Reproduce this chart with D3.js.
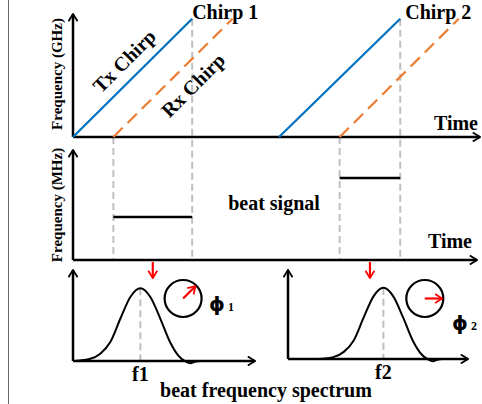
<!DOCTYPE html>
<html lang="en">
<head>
    <meta charset="UTF-8">
    <title>FMCW chirp and beat frequency spectrum</title>
    <script src="https://d3js.org/d3.v7.min.js"></script>
    <style>
        body { margin: 0; background: #fff; }
        text { font-family: "Liberation Serif", "Times New Roman", serif; font-weight: bold; fill: #000; }
        .axis { stroke: #000; stroke-width: 2.5; fill: none; }
        .guide { stroke: #bfbfbf; stroke-width: 2; stroke-dasharray: 7,4; fill: none; }
    </style>
</head>
<body>
    <svg width="482" height="404"></svg>

    <script>
        // time in µs, chirp frequency normalised (1 = top of sweep)
        const txChirps = [[0, 29.5], [51, 81]];
        const rxChirps = [[10, 39.5], [66, 95.5]];
        const chirpLabels = ["Chirp 1", "Chirp 2"];

        // beat frequency (normalised) per chirp
        const beatLevels = [0.39, 0.745];

        // spectrum shape: offset from peak (MHz) and amplitude
        const specOffsets = [-3.6, -2.75, -2.2, -1.65, -1.1, -0.55, 0, 0.55, 1.1, 1.65, 2.1, 2.5, 2.75, 3.0, 3.3];
        const specAmps = [0, 0.03, 0.1, 0.26, 0.58, 0.88, 1, 0.88, 0.58, 0.25, 0.07, -0.01, -0.03, -0.01, 0];
        const peakFreqs = [3.7, 5.3];
        const peakLabels = ["f1", "f2"];
        const phases = [45, 0];          // degrees
        const phaseLabels = ["1", "2"];

        const svg = d3.select("svg");

        const defs = svg.append("defs");
        function marker(id, color, size) {
            defs.append("marker")
                .attr("id", id)
                .attr("viewBox", "0 -6 10 12")
                .attr("refX", 9).attr("refY", 0)
                .attr("markerUnits", "userSpaceOnUse")
                .attr("markerWidth", size).attr("markerHeight", size * 1.2)
                .attr("orient", "auto")
                .append("path")
                .attr("d", "M1,-5L9,0L1,5")
                .attr("fill", "none")
                .attr("stroke", color)
                .attr("stroke-width", 2);
        }
        marker("arr", "#000", 9);
        marker("arrRed", "#ff0000", 9);

        // left page border
        svg.append("line")
            .attr("x1", 8.5).attr("x2", 8.5).attr("y1", 0).attr("y2", 404)
            .attr("stroke", "#666").attr("stroke-width", 1);

        const x = d3.scaleLinear().domain([0, 100]).range([73, 477]);
        const yTop = d3.scaleLinear().domain([0, 1.04]).range([137, 14]);
        const yMid = d3.scaleLinear().domain([0, 1]).range([260, 150]);

        function axes(x0, x1, y0, y1) {
            svg.append("line").attr("class", "axis")
                .attr("x1", x0).attr("y1", y0).attr("x2", x1).attr("y2", y0)
                .attr("marker-end", "url(#arr)");
            svg.append("line").attr("class", "axis")
                .attr("x1", x0).attr("y1", y0).attr("x2", x0).attr("y2", y1)
                .attr("marker-end", "url(#arr)");
        }

        // ---- guides (dashed gray) ----
        txChirps.forEach((c, i) => {
            svg.append("line").attr("class", "guide")
                .attr("x1", x(rxChirps[i][0])).attr("x2", x(rxChirps[i][0]))
                .attr("y1", yTop(0)).attr("y2", yMid(0));
            svg.append("line").attr("class", "guide")
                .attr("x1", x(c[1])).attr("x2", x(c[1]))
                .attr("y1", yTop(1)).attr("y2", yMid(0));
        });

        // ---- top panel ----
        axes(x(0), x(100) + 3, yTop(0), yTop(1.04));

        txChirps.forEach(c => {
            svg.append("line")
                .attr("x1", x(c[0])).attr("y1", yTop(0))
                .attr("x2", x(c[1])).attr("y2", yTop(1))
                .attr("stroke", "#0070C0").attr("stroke-width", 2.2);
        });
        rxChirps.forEach(c => {
            svg.append("line")
                .attr("x1", x(c[0])).attr("y1", yTop(0))
                .attr("x2", x(c[1])).attr("y2", yTop(1))
                .attr("stroke", "#ED7D31").attr("stroke-width", 2.2)
                .attr("stroke-dasharray", "13,7");
        });

        chirpLabels.forEach((t, i) => {
            svg.append("text")
                .attr("x", x(txChirps[i][1]) + (i ? 5 : 0)).attr("y", 19)
                .attr("font-size", 20).text(t);
        });

        svg.append("text").attr("font-size", 20)
            .attr("transform", "translate(129,66) rotate(-45)")
            .attr("text-anchor", "middle").text("Tx Chirp");
        svg.append("text").attr("font-size", 20)
            .attr("transform", "translate(198,90) rotate(-45)")
            .attr("text-anchor", "middle").text("Rx Chirp");

        svg.append("text").attr("font-size", 20)
            .attr("x", 478).attr("y", 130).attr("text-anchor", "end").text("Time");

        svg.append("text").attr("font-size", 15)
            .attr("transform", "translate(62,74) rotate(-90)")
            .attr("text-anchor", "middle").text("Frequency (GHz)");

        // ---- middle panel ----
        axes(x(0), x(100), yMid(0), yMid(1));

        beatLevels.forEach((b, i) => {
            svg.append("line")
                .attr("x1", x(rxChirps[i][0])).attr("x2", x(txChirps[i][1]))
                .attr("y1", yMid(b)).attr("y2", yMid(b))
                .attr("stroke", "#000").attr("stroke-width", 2.5);
        });

        svg.append("text").attr("font-size", 20)
            .attr("x", 274).attr("y", 210).attr("text-anchor", "middle").text("beat signal");
        svg.append("text").attr("font-size", 20)
            .attr("x", 472).attr("y", 248).attr("text-anchor", "end").text("Time");
        svg.append("text").attr("font-size", 15)
            .attr("transform", "translate(62,205) rotate(-90)")
            .attr("text-anchor", "middle").text("Frequency (MHz)");

        // ---- bottom panels (spectra) ----
        const panels = [
            { fx: d3.scaleLinear().domain([0, 10]).range([73, 255]), fy: d3.scaleLinear().domain([0, 1.25]).range([361, 270]) },
            { fx: d3.scaleLinear().domain([0, 10]).range([288, 468]), fy: d3.scaleLinear().domain([0, 1.25]).range([359, 270]) }
        ];

        panels.forEach((p, i) => {
            const fx = p.fx, fy = p.fy;
            const pk = peakFreqs[i];

            // red arrow from beat signal to spectrum
            const mid = x((rxChirps[i][0] + txChirps[i][1]) / 2);
            svg.append("line")
                .attr("x1", mid).attr("x2", mid)
                .attr("y1", yMid(0) + 2).attr("y2", 278)
                .attr("stroke", "#ff0000").attr("stroke-width", 2.2)
                .attr("marker-end", "url(#arrRed)");

            // dashed line under the peak
            svg.append("line").attr("class", "guide")
                .attr("x1", fx(pk)).attr("x2", fx(pk))
                .attr("y1", fy(1)).attr("y2", fy(0));

            axes(fx(0), fx(10), fy(0), fy(1.25));

            const pts = specOffsets.map((o, k) => [pk + o, specAmps[k]]);
            svg.append("path")
                .datum(pts)
                .attr("d", d3.line().x(d => fx(d[0])).y(d => fy(d[1])).curve(d3.curveMonotoneX))
                .attr("fill", "none").attr("stroke", "#000").attr("stroke-width", 2);

            svg.append("text").attr("font-size", 20)
                .attr("x", fx(pk)).attr("y", 381 - (i ? 2 : 0))
                .attr("text-anchor", "middle").text(peakLabels[i]);

            // phase circle
            const cx = i ? fx(7.6) : fx(6.05);
            const cy = 298.5;
            const r = 18.5;
            svg.append("circle").attr("cx", cx).attr("cy", cy).attr("r", r)
                .attr("fill", "none").attr("stroke", "#000").attr("stroke-width", 2.2);
            const a = phases[i] * Math.PI / 180;
            svg.append("line")
                .attr("x1", cx).attr("y1", cy)
                .attr("x2", cx + (r - 1) * Math.cos(a)).attr("y2", cy - (r - 1) * Math.sin(a))
                .attr("stroke", "#ff0000").attr("stroke-width", 2.2)
                .attr("marker-end", "url(#arrRed)");

            const lx = i ? 452 : 209;
            const ly = i ? 330 : 311;
            const t = svg.append("text").attr("x", lx).attr("y", ly);
            t.append("tspan")
                .style("font-family", "'DejaVu Sans', sans-serif")
                .attr("font-size", 20).text("ϕ");
            t.append("tspan")
                .attr("dx", 3).attr("font-size", 12).text(phaseLabels[i]);
        });

        svg.append("text").attr("font-size", 20)
            .attr("x", 266).attr("y", 397).attr("text-anchor", "middle")
            .text("beat frequency spectrum");
    </script>
</body>
</html>
